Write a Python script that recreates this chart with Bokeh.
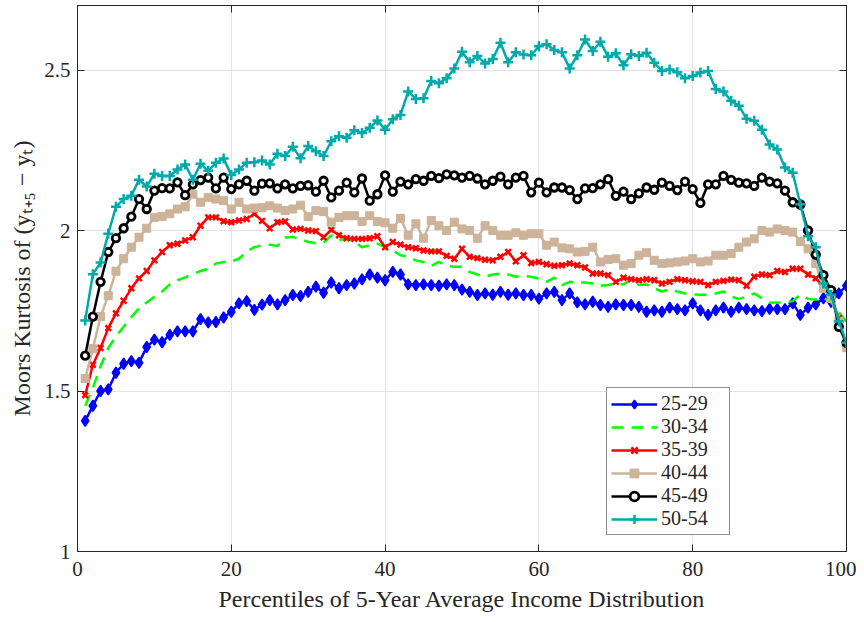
from bokeh.plotting import figure
from bokeh.models import Range1d, LinearAxis, FixedTicker, Legend, CustomJSTickFormatter
from bokeh.embed import file_html
from bokeh.resources import INLINE

percentiles = list(range(1, 101))

s25_29 = [1.407,1.454,1.500,1.505,1.557,1.585,1.593,1.588,1.637,1.660,
1.652,1.675,1.686,1.686,1.686,1.724,1.714,1.715,1.729,1.747,
1.773,1.780,1.753,1.769,1.783,1.770,1.783,1.799,1.796,1.809,
1.825,1.806,1.838,1.820,1.830,1.835,1.848,1.863,1.853,1.845,
1.871,1.863,1.832,1.830,1.832,1.830,1.828,1.832,1.830,1.816,
1.809,1.799,1.804,1.800,1.809,1.800,1.804,1.799,1.799,1.788,
1.804,1.809,1.783,1.804,1.776,1.770,1.778,1.768,1.762,1.770,
1.768,1.768,1.762,1.747,1.751,1.747,1.760,1.755,1.751,1.773,
1.751,1.737,1.751,1.760,1.747,1.760,1.755,1.751,1.749,1.756,
1.755,1.755,1.773,1.737,1.760,1.770,1.789,1.778,1.804,1.828]

s30_34 = [1.454,1.510,1.577,1.634,1.670,1.700,1.730,1.758,1.776,1.794,
1.810,1.832,1.845,1.854,1.864,1.874,1.880,1.897,1.902,1.904,
1.912,1.935,1.948,1.954,1.956,1.952,1.978,1.980,1.972,1.965,
1.960,1.962,1.985,1.970,1.974,1.966,1.948,1.954,1.959,1.948,
1.938,1.923,1.918,1.907,1.902,1.890,1.902,1.890,1.887,1.887,
1.871,1.863,1.856,1.863,1.866,1.863,1.856,1.859,1.856,1.850,
1.840,1.853,1.830,1.840,1.838,1.838,1.835,1.828,1.830,1.835,
1.832,1.848,1.830,1.832,1.820,1.810,1.817,1.810,1.804,1.801,
1.800,1.800,1.804,1.810,1.794,1.787,1.794,1.804,1.789,1.775,
1.776,1.776,1.780,1.800,1.787,1.784,1.790,1.776,1.746,1.715]

s35_39 = [1.487,1.582,1.634,1.696,1.742,1.781,1.820,1.851,1.874,1.907,
1.933,1.954,1.959,1.969,1.979,2.015,2.041,2.041,2.029,2.026,
2.031,2.036,2.052,2.030,2.007,2.026,2.028,2.003,2.005,2.000,
1.998,1.979,2.002,1.985,1.976,1.974,1.974,1.976,1.982,1.948,
1.964,1.956,1.948,1.945,1.938,1.935,1.935,1.921,1.912,1.943,
1.918,1.914,1.909,1.907,1.918,1.933,1.904,1.923,1.899,1.902,
1.895,1.890,1.892,1.897,1.892,1.885,1.866,1.866,1.861,1.840,
1.853,1.848,1.845,1.848,1.845,1.835,1.840,1.848,1.845,1.842,
1.840,1.830,1.840,1.843,1.847,1.845,1.828,1.856,1.863,1.861,
1.874,1.871,1.881,1.881,1.863,1.851,1.825,1.791,1.727,1.635]

s40_44 = [1.539,1.632,1.732,1.797,1.873,1.912,1.948,1.979,2.007,2.041,
2.044,2.052,2.067,2.074,2.113,2.088,2.103,2.098,2.093,2.067,
2.088,2.067,2.070,2.071,2.077,2.070,2.062,2.067,2.079,2.043,
2.062,2.059,2.026,2.041,2.046,2.046,2.028,2.046,2.028,2.024,
2.007,2.038,1.985,2.021,1.976,2.031,2.015,2.000,2.026,2.005,
2.000,1.976,2.015,2.000,1.985,1.985,1.993,1.985,1.990,1.990,
1.954,1.964,1.946,1.943,1.933,1.935,1.948,1.902,1.910,1.912,
1.892,1.897,1.923,1.931,1.907,1.897,1.899,1.902,1.905,1.912,
1.902,1.905,1.923,1.923,1.928,1.948,1.964,1.974,2.000,1.995,
2.005,2.000,1.995,1.966,1.943,1.897,1.820,1.789,1.717,1.635]

s45_49 = [1.610,1.732,1.840,1.933,1.976,2.007,2.043,2.098,2.067,2.124,
2.132,2.131,2.150,2.110,2.144,2.157,2.165,2.131,2.165,2.129,
2.144,2.155,2.124,2.146,2.147,2.131,2.144,2.131,2.139,2.141,
2.121,2.155,2.103,2.124,2.149,2.119,2.162,2.093,2.113,2.172,
2.121,2.152,2.144,2.160,2.155,2.170,2.163,2.175,2.172,2.165,
2.170,2.162,2.144,2.155,2.168,2.144,2.165,2.170,2.119,2.149,
2.119,2.134,2.134,2.126,2.098,2.131,2.132,2.144,2.160,2.108,
2.121,2.098,2.116,2.134,2.127,2.149,2.139,2.126,2.152,2.129,
2.086,2.144,2.144,2.170,2.158,2.149,2.147,2.139,2.165,2.152,
2.147,2.124,2.088,2.081,2.000,1.925,1.861,1.814,1.700,1.650]

s50_54 = [1.720,1.864,1.900,1.990,2.074,2.098,2.108,2.158,2.137,2.177,
2.170,2.170,2.190,2.206,2.158,2.208,2.186,2.211,2.224,2.173,
2.190,2.211,2.213,2.218,2.206,2.239,2.232,2.261,2.225,2.263,
2.247,2.232,2.278,2.294,2.289,2.312,2.304,2.320,2.343,2.314,
2.347,2.360,2.433,2.410,2.412,2.466,2.459,2.474,2.505,2.557,
2.524,2.544,2.520,2.534,2.585,2.524,2.555,2.548,2.546,2.574,
2.580,2.562,2.555,2.505,2.546,2.595,2.559,2.588,2.541,2.552,
2.515,2.549,2.544,2.554,2.523,2.497,2.502,2.493,2.474,2.481,
2.492,2.497,2.441,2.433,2.404,2.389,2.348,2.342,2.314,2.268,
2.252,2.196,2.180,2.082,1.982,1.948,1.835,1.800,1.717,1.650]

labels = ["25-29", "30-34", "35-39", "40-44", "45-49", "50-54"]
x_ticks = [0, 20, 40, 60, 80, 100]
y_ticks = [1, 1.5, 2, 2.5]

SERIF = "Liberation Serif"
AX = "#262626"

p = figure(width=856, height=614, output_backend="svg", toolbar_location=None,
           x_range=Range1d(0, 100), y_range=Range1d(1, 2.701),
           min_border_left=77, min_border_right=10, min_border_top=5, min_border_bottom=59)

p.outline_line_color = AX
p.outline_line_width = 1
p.background_fill_color = "white"
p.border_fill_color = "white"

for ax in (p.xaxis[0], p.yaxis[0]):
    ax.axis_line_color = AX
    ax.major_tick_line_color = AX
    ax.major_tick_in = 7
    ax.major_tick_out = 0
    ax.minor_tick_line_color = None
    ax.major_label_text_font = SERIF
    ax.major_label_text_font_size = "21px"
    ax.major_label_text_color = AX
    ax.axis_label_text_font = SERIF
    ax.axis_label_text_font_size = "24px"
    ax.axis_label_text_font_style = "normal"
    ax.axis_label_text_color = AX

p.xaxis[0].ticker = FixedTicker(ticks=x_ticks)
p.yaxis[0].ticker = FixedTicker(ticks=y_ticks)
p.xaxis[0].axis_label = "Percentiles of 5-Year Average Income Distribution"
p.yaxis[0].axis_label = "Moors Kurtosis of (yₜ₊₅ − yₜ)"
p.xaxis[0].major_label_standoff = 10
p.yaxis[0].major_label_standoff = 7
p.xaxis[0].axis_label_standoff = 7
p.yaxis[0].axis_label_standoff = 6

blank = CustomJSTickFormatter(code="return ''")
for ticks, side in ((y_ticks, "right"), (x_ticks, "above")):
    ax = LinearAxis(ticker=FixedTicker(ticks=ticks), formatter=blank)
    ax.major_tick_in = 7
    ax.major_tick_out = 0
    ax.minor_tick_line_color = None
    ax.axis_line_color = AX
    ax.major_tick_line_color = AX
    ax.major_label_standoff = 0
    p.add_layout(ax, side)

p.xgrid.ticker = FixedTicker(ticks=x_ticks)
p.ygrid.ticker = FixedTicker(ticks=y_ticks)
p.grid.grid_line_color = "#e3e3e3"
p.grid.grid_line_width = 1

colors = ["#0000ff", "#00ff00", "#ff0000", "#ccb399", "#000000", "#00aaaa"]
items = []

l = p.line(percentiles, s25_29, line_color=colors[0], line_width=2.5)
m = p.scatter(percentiles, s25_29, marker="diamond", size=11, fill_color=colors[0], line_color=colors[0], line_width=1.5)
items.append((labels[0], [l, m]))

l = p.line(percentiles, s30_34, line_color=colors[1], line_width=2.5, line_dash="12 8")
items.append((labels[1], [l]))

l = p.line(percentiles, s35_39, line_color=colors[2], line_width=2.5)
m = p.scatter(percentiles, s35_39, marker="x", size=8, line_color=colors[2], line_width=2.5)
items.append((labels[2], [l, m]))

l = p.line(percentiles, s40_44, line_color=colors[3], line_width=2.5)
m = p.scatter(percentiles, s40_44, marker="square", size=8, fill_color=colors[3], line_color=colors[3], line_width=1)
items.append((labels[3], [l, m]))

l = p.line(percentiles, s45_49, line_color=colors[4], line_width=2.5)
m = p.scatter(percentiles, s45_49, marker="circle", size=7.5, fill_color="white", line_color=colors[4], line_width=2.8)
items.append((labels[4], [l, m]))

l = p.line(percentiles, s50_54, line_color=colors[5], line_width=2.5)
m = p.scatter(percentiles, s50_54, marker="cross", size=10, line_color=colors[5], line_width=2.5)
items.append((labels[5], [l, m]))

legend = Legend(items=items, location=(529, 16))
legend.label_text_font = SERIF
legend.label_text_font_size = "20px"
legend.label_text_color = AX
legend.glyph_width = 46
legend.glyph_height = 22
legend.label_height = 22
legend.label_width = 64
legend.label_standoff = 4
legend.spacing = 0
legend.padding = 4
legend.margin = 0
legend.border_line_color = AX
legend.border_line_width = 1
legend.background_fill_alpha = 1
p.add_layout(legend, "center")

open("out.html", "w").write(file_html(p, INLINE))
